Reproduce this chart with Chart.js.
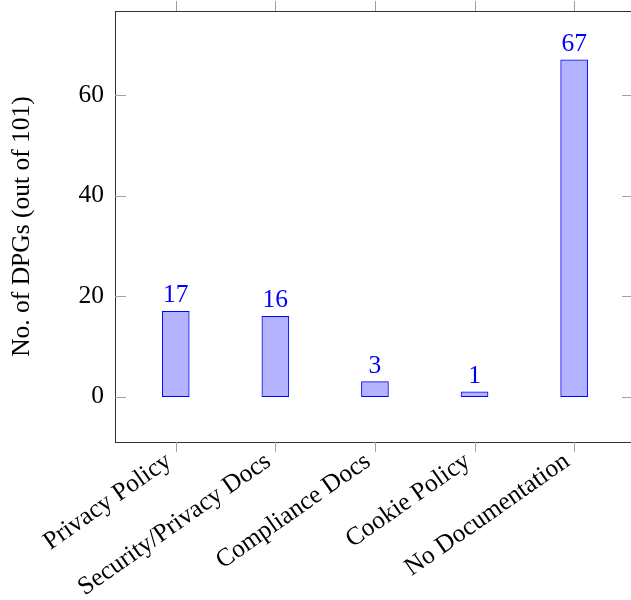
<!DOCTYPE html>
<html>
<head>
<meta charset="utf-8">
<script src="https://cdn.jsdelivr.net/npm/chart.js@4/dist/chart.umd.min.js"></script>
<style>
  html, body { margin: 0; padding: 0; background: #fff; }
  #wrap { width: 631px; height: 600px; }
</style>
</head>
<body>
<div id="wrap"><canvas id="grafico" width="631" height="600"></canvas></div>
<script>
const categories = ["Privacy Policy", "Security/Privacy Docs", "Compliance Docs", "Cookie Policy", "No Documentation"];
const counts = [17, 16, 3, 1, 67];
const yTicks = [0, 20, 40, 60];

const serif = "'Liberation Serif', 'Times New Roman', serif";
const fontPx = 25.5;

// frame, tick marks, value labels and rotated category labels
const decor = {
    id: 'decor',
    afterDatasetsDraw(chart) {
        const ctx = chart.ctx;
        const a = chart.chartArea;
        const x = chart.scales.x;
        const y = chart.scales.y;
        ctx.save();

        // top frame line
        ctx.strokeStyle = '#333';
        ctx.lineWidth = 1;
        ctx.beginPath();
        ctx.moveTo(a.left, a.top + 0.5);
        ctx.lineTo(a.right, a.top + 0.5);
        ctx.stroke();

        // tick marks
        ctx.strokeStyle = '#a0a0a0';
        ctx.beginPath();
        categories.forEach((c, i) => {
            const px = Math.round(x.getPixelForValue(i)) + 0.5;
            ctx.moveTo(px, a.bottom);
            ctx.lineTo(px, a.bottom + 10);
            ctx.moveTo(px, a.top);
            ctx.lineTo(px, a.top - 10);
        });
        yTicks.forEach(t => {
            const py = Math.round(y.getPixelForValue(t)) + 0.5;
            ctx.moveTo(a.left, py);
            ctx.lineTo(a.left + 11, py);
            ctx.moveTo(a.right + 2, py);
            ctx.lineTo(a.right - 9, py);
        });
        ctx.stroke();

        // value labels
        ctx.fillStyle = '#0000ff';
        ctx.font = fontPx + 'px ' + serif;
        ctx.textAlign = 'center';
        ctx.textBaseline = 'alphabetic';
        counts.forEach((v, i) => {
            ctx.fillText(String(v), x.getPixelForValue(i), y.getPixelForValue(v) - 9);
        });

        // rotated category labels
        ctx.fillStyle = '#000';
        ctx.textAlign = 'right';
        ctx.textBaseline = 'middle';
        categories.forEach((c, i) => {
            ctx.save();
            ctx.translate(x.getPixelForValue(i) - 7, a.bottom + 17);
            ctx.rotate(-35 * Math.PI / 180);
            ctx.fillText(c, 0, 0);
            ctx.restore();
        });
        ctx.restore();
    }
};

const config = {
    type: 'bar',
    data: {
        datasets: [{
            data: counts.map((v, i) => ({ x: i, y: v })),
            backgroundColor: 'rgb(179, 179, 255)',
            borderColor: '#0000ff',
            borderWidth: 1,
            borderSkipped: false,
            barThickness: 27
        }]
    },
    options: {
        responsive: false,
        animation: false,
        layout: { padding: { top: 11, right: 0, left: 0, bottom: 0 } },
        plugins: { legend: { display: false }, tooltip: { enabled: false } },
        scales: {
            x: {
                type: 'linear',
                offset: false,
                min: -0.61,
                max: 4.571,
                grid: { display: false, offset: false },
                border: { display: true, color: '#333', width: 1 },
                ticks: { display: false },
                afterFit(s) {
                    s.height = 158;
                    s.paddingLeft = 0; s.paddingRight = 0;
                }
            },
            y: {
                min: -9,
                max: 76.7,
                grid: { display: false, drawTicks: false },
                border: { display: true, color: '#333', width: 1 },
                afterBuildTicks(s) { s.ticks = yTicks.map(v => ({ value: v })); },
                ticks: {
                    color: '#000',
                    padding: 11,
                    font: { family: serif, size: fontPx }
                },
                title: {
                    display: true,
                    text: 'No. of DPGs (out of 101)',
                    color: '#000',
                    padding: { top: 7, bottom: 0 },
                    font: { family: serif, size: fontPx }
                },
                afterFit(s) {
                    s.width = 115;
                    s.paddingTop = 0; s.paddingBottom = 0;
                }
            }
        }
    },
    plugins: [decor]
};

new Chart(document.getElementById('grafico'), config);
</script>
</body>
</html>
